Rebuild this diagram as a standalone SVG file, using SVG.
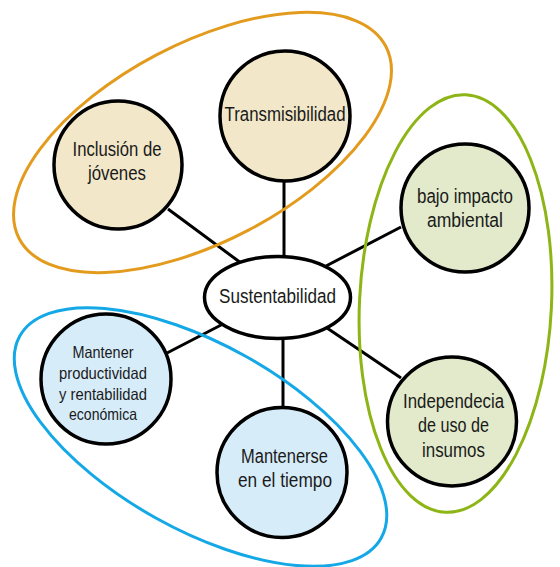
<svg xmlns="http://www.w3.org/2000/svg" width="560" height="567" viewBox="0 0 560 567">
<style>
.grp{fill:none;stroke-width:3}
.node{stroke:#000;stroke-width:3.5}
.beige{fill:#F2E8C9}
.green{fill:#E2EACB}
.blue{fill:#D6ECF9}
.conn line{stroke:#000;stroke-width:3}
text{font-family:"Liberation Sans Narrow","Liberation Sans",Arial,sans-serif;fill:#1a1a1a;text-anchor:middle}
.t{font-size:20px}
.s{font-size:16.5px}
</style>
<rect width="560" height="567" fill="#fff"/>
<g id="conns" class="conn">
<line x1="284" y1="182" x2="284" y2="257"/>
<line x1="168" y1="209" x2="241" y2="263"/>
<line x1="401" y1="227" x2="326" y2="266"/>
<line x1="327" y1="328" x2="401" y2="378"/>
<line x1="167" y1="353" x2="223" y2="324"/>
<line x1="283" y1="338" x2="283" y2="407"/>
</g>
<g id="node-transmisibilidad">
<circle class="node beige" cx="285" cy="116" r="65"/>
<text class="t" x="285" y="121" textLength="121" lengthAdjust="spacingAndGlyphs">Transmisibilidad</text>
</g>
<g id="node-inclusion">
<circle class="node beige" cx="118" cy="165" r="64"/>
<text class="t" x="117" y="156" textLength="89" lengthAdjust="spacingAndGlyphs">Inclusión de</text>
<text class="t" x="117" y="180" textLength="58" lengthAdjust="spacingAndGlyphs">jóvenes</text>
</g>
<g id="node-bajo">
<circle class="node green" cx="465" cy="208" r="64"/>
<text class="t" x="465" y="203" textLength="96" lengthAdjust="spacingAndGlyphs">bajo impacto</text>
<text class="t" x="465" y="227" textLength="76" lengthAdjust="spacingAndGlyphs">ambiental</text>
</g>
<g id="node-independencia">
<circle class="node green" cx="452" cy="421.5" r="64.5"/>
<text class="t" x="453.5" y="408" textLength="101" lengthAdjust="spacingAndGlyphs">Independecia</text>
<text class="t" x="453.5" y="432" textLength="71" lengthAdjust="spacingAndGlyphs">de uso de</text>
<text class="t" x="453.5" y="456.5" textLength="63" lengthAdjust="spacingAndGlyphs">insumos</text>
</g>
<g id="node-mantener">
<circle class="node blue" cx="106" cy="379" r="65"/>
<text class="s" x="103" y="358" textLength="61" lengthAdjust="spacingAndGlyphs">Mantener</text>
<text class="s" x="103" y="379" textLength="88" lengthAdjust="spacingAndGlyphs">productividad</text>
<text class="s" x="103" y="399.5" textLength="88" lengthAdjust="spacingAndGlyphs">y rentabilidad</text>
<text class="s" x="103" y="420" textLength="68" lengthAdjust="spacingAndGlyphs">económica</text>
</g>
<g id="node-mantenerse">
<circle class="node blue" cx="282" cy="472.5" r="65"/>
<text class="t" x="284.5" y="463" textLength="87" lengthAdjust="spacingAndGlyphs">Mantenerse</text>
<text class="t" x="285" y="486.5" textLength="94" lengthAdjust="spacingAndGlyphs">en el tiempo</text>
</g>
<g id="node-sustentabilidad">
<ellipse class="node" fill="#fff" cx="277.5" cy="297.5" rx="73" ry="41"/>
<text class="t" x="277.5" y="303" textLength="117" lengthAdjust="spacingAndGlyphs">Sustentabilidad</text>
</g>
<g id="groups">
<ellipse class="grp" stroke="#E39B1E" cx="202.5" cy="142.5" rx="207" ry="99" transform="rotate(-27.7 202.5 142.5)"/>
<ellipse class="grp" stroke="#8DB516" cx="455.5" cy="303.5" rx="96" ry="209" transform="rotate(2.8 455.5 303.5)"/>
<ellipse class="grp" stroke="#14A8E6" cx="200.5" cy="437" rx="207" ry="92.5" transform="rotate(29.2 200.5 437)"/>
</g>
</svg>
